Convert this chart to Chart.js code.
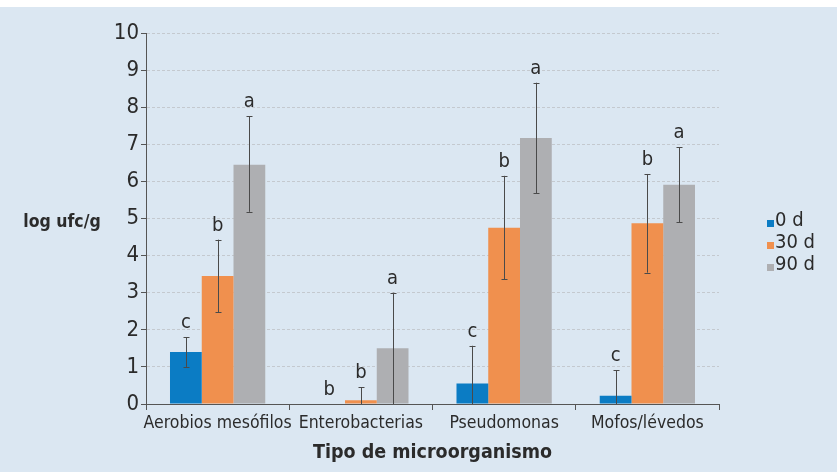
<!DOCTYPE html>
<html><head><meta charset="utf-8">
<script src="https://cdn.jsdelivr.net/npm/chart.js@4/dist/chart.umd.min.js"></script>
<style>html,body{margin:0;padding:0;background:#fff}#wrap{width:837px;height:472px}</style>
</head><body><div id="wrap"><canvas id="c" width="837" height="472"></canvas></div>
<script>
const categories = ['Aerobios mesófilos', 'Enterobacterias', 'Pseudomonas', 'Mofos/lévedos'];
const seriesLabels = ['0 d', '30 d', '90 d'];
const values0 = [1.4, 0, 0.55, 0.22];
const values30 = [3.45, 0.1, 4.75, 4.87];
const values90 = [6.45, 1.5, 7.17, 5.91];
const errLow0 = [1.0, 0, 0, 0];
const errHigh0 = [1.8, 0, 1.57, 0.91];
const errLow30 = [2.47, 0, 3.36, 3.54];
const errHigh30 = [4.43, 0.45, 6.15, 6.2];
const errLow90 = [5.18, 0, 5.68, 4.9];
const errHigh90 = [7.75, 3.0, 8.66, 6.92];
const letters0 = ['c', 'b', 'c', 'c'];
const letters30 = ['b', 'b', 'b', 'b'];
const letters90 = ['a', 'a', 'a', 'a'];
const yTicks = [0,1,2,3,4,5,6,7,8,9,10];

const FONT = "'DejaVu Sans Condensed', 'Liberation Sans Narrow', sans-serif";
const TXT = '#2b2b2b';
const colors = ['#0b7cc4', '#f0904e', '#aeafb2'];
const BG = '#dbe7f2';

const errs = [[errLow0, errHigh0], [errLow30, errHigh30], [errLow90, errHigh90]];
const letters = [letters0, letters30, letters90];

const bgPlugin = {
  id: 'bg',
  beforeDraw(chart) {
    const ctx = chart.ctx;
    ctx.save();
    ctx.fillStyle = '#ffffff';
    ctx.fillRect(0, 0, chart.width, chart.height);
    ctx.fillStyle = BG;
    ctx.fillRect(0, 7, chart.width, chart.height - 7);
    ctx.restore();
  }
};

const extras = {
  id: 'extras',
  afterDatasetsDraw(chart) {
    const ctx = chart.ctx;
    const y = chart.scales.y;
    ctx.save();
    chart.data.datasets.forEach((ds, di) => {
      const meta = chart.getDatasetMeta(di);
      meta.data.forEach((bar, i) => {
        const x = Math.round(bar.x) + 0.5;
        const lo = errs[di][0][i], hi = errs[di][1][i];
        const yl = y.getPixelForValue(lo), yh = y.getPixelForValue(hi);
        ctx.strokeStyle = '#4a4a4a';
        ctx.lineWidth = 1;
        if (hi > lo) {
          ctx.beginPath();
          ctx.moveTo(x, yl); ctx.lineTo(x, yh);
          ctx.moveTo(x - 3, Math.round(yh) + 0.5); ctx.lineTo(x + 3, Math.round(yh) + 0.5);
          if (lo > 0) { ctx.moveTo(x - 3, Math.round(yl) + 0.5); ctx.lineTo(x + 3, Math.round(yl) + 0.5); }
          ctx.stroke();
        }
        ctx.fillStyle = TXT;
        ctx.font = '20px ' + FONT;
        ctx.textAlign = 'center';
        ctx.textBaseline = 'alphabetic';
        ctx.fillText(letters[di][i], bar.x, Math.min(yh, bar.y) - 9);
      });
    });
    // axis titles
    ctx.fillStyle = TXT;
    ctx.font = 'bold 19.5px ' + FONT;
    ctx.textAlign = 'center';
    ctx.textBaseline = 'middle';
    ctx.fillText('Tipo de microorganismo', (chart.chartArea.left + chart.chartArea.right) / 2, 453);
    ctx.font = 'bold 17.5px ' + FONT;
    ctx.fillText('log ufc/g', 62, 222);
    // legend
    ctx.font = '20px ' + FONT;
    ctx.textAlign = 'left';
    chart.data.datasets.forEach((ds, di) => {
      const ly = 221 + di * 22;
      ctx.fillStyle = ds.backgroundColor;
      ctx.fillRect(767, ly - 1, 7, 7);
      ctx.fillStyle = TXT;
      ctx.fillText(ds.label, 775, ly);
    });
    ctx.restore();
  }
};

new Chart(document.getElementById('c'), {
  type: 'bar',
  data: {
    labels: categories,
    datasets: [
      { label: seriesLabels[0], data: values0, backgroundColor: colors[0] },
      { label: seriesLabels[1], data: values30, backgroundColor: colors[1] },
      { label: seriesLabels[2], data: values90, backgroundColor: colors[2] }
    ]
  },
  options: {
    responsive: false,
    animation: false,
    events: [],
    layout: { padding: { left: 0, right: 118, top: 33, bottom: 0 } },
    datasets: { bar: { categoryPercentage: 0.665, barPercentage: 1 } },
    plugins: { legend: { display: false }, tooltip: { enabled: false } },
    scales: {
      x: {
        afterFit(s) { s.height = 68; },
        grid: { drawOnChartArea: false, offset: true, tickLength: 6, color: '#555', tickColor: '#555' },
        border: { color: '#555', width: 1 },
        ticks: { color: TXT, font: { family: FONT, size: 17.5 }, padding: 3, maxRotation: 0, autoSkip: false }
      },
      y: {
        min: 0, max: 10,
        afterFit(s) { s.width = 146; },
        afterBuildTicks(s) { s.ticks = yTicks.map(v => ({ value: v })); },
        grid: { color: '#c4c9cf', tickColor: '#555', tickLength: 5, lineWidth: 1 },
        border: { color: '#555', width: 1, dash: [3, 2] },
        ticks: { color: TXT, font: { family: FONT, size: 22 }, padding: 2 }
      }
    }
  },
  plugins: [bgPlugin, extras]
});
</script></body></html>
